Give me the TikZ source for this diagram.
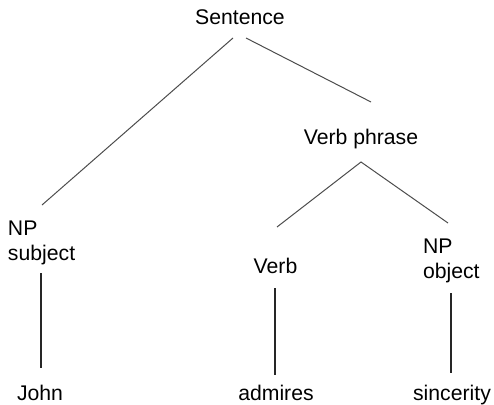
\documentclass[tikz,border=0pt]{standalone}
\usepackage{fontspec}
\setmainfont{Liberation Sans}
\begin{document}
\begin{tikzpicture}[x=1pt,y=1pt,
  word/.style={inner sep=0pt, outer sep=0pt, font=\fontsize{21.2}{25}\selectfont},
  branch/.style={line width=1pt, draw=black!70},
  stem/.style={line width=1.3pt, draw=black!85}]
  \useasboundingbox (0,0) rectangle (494,-404);

  % labels of the parse tree (two-line labels sit on the baseline of their last line)
  \node[word, anchor=base] (sent) at (240,-25) {Sentence};
  \node[word, anchor=base] (vp) at (361,-144) {Verb phrase};
  \node[word, anchor=base west, align=left] (npsubj) at (8,-260) {NP\\subject};
  \node[word, anchor=base] (verb) at (275.5,-273) {Verb};
  \node[word, anchor=base west, align=left] (npobj) at (423,-278) {NP\\object};
  \node[word, anchor=base] (john) at (40,-400) {John};
  \node[word, anchor=base] (admires) at (276,-400) {admires};
  \node[word, anchor=base] (sincerity) at (452,-400) {sincerity};

  % branches
  \draw[branch] ([shift={(-7,-13)}]sent.base) -- ([shift={(34,55)}]npsubj.base west);
  \draw[branch] ([shift={(6,-13)}]sent.base) -- ([shift={(10,42)}]vp.base);
  \draw[branch] ([shift={(1.5,46)}]verb.base) -- ([shift={(0,-18)}]vp.base)
                -- ([shift={(25,55)}]npobj.base west);

  % stems down to the words
  \draw[stem] ([shift={(33,-13)}]npsubj.base west) -- ([shift={(1,32)}]john.base);
  \draw[stem] ([shift={(-0.5,-15)}]verb.base) -- ([shift={(-1,25)}]admires.base);
  \draw[stem] ([shift={(28,-15)}]npobj.base west) -- ([shift={(-1,27)}]sincerity.base);
\end{tikzpicture}
\end{document}
